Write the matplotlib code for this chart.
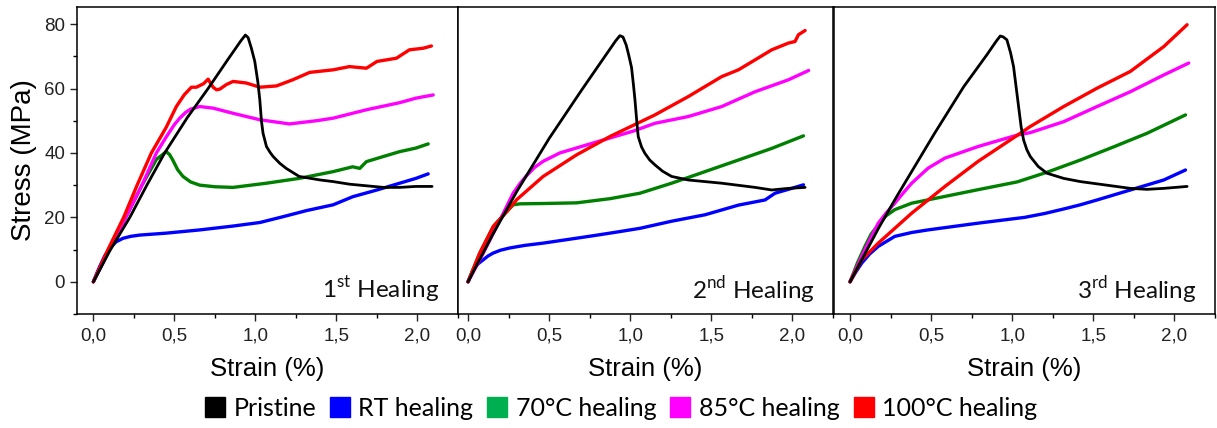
import numpy as np
import matplotlib
matplotlib.use("Agg")
import matplotlib.pyplot as plt
from matplotlib.lines import Line2D
from matplotlib.ticker import MultipleLocator, FuncFormatter

plt.rcParams['font.family'] = ['Liberation Sans', 'DejaVu Sans']
plt.rcParams['mathtext.fontset'] = 'custom'
plt.rcParams['mathtext.rm'] = 'Lato'

series_names = ["Pristine", "RT healing", "70°C healing", "85°C healing", "100°C healing"]
line_colors = ["#000000", "#0000FF", "#008000", "#FF00FF", "#FF0000"]
legend_colors = ["#000000", "#0000FF", "#00B050", "#FF00FF", "#FF0000"]
panel_labels = [r"1$^{\mathrm{st}}$ Healing", r"2$^{\mathrm{nd}}$ Healing", r"3$^{\mathrm{rd}}$ Healing"]

# ---- Panel 1 (1st healing) ----
p1_black_x = [0, 0.1, 0.225, 0.33, 0.44, 0.58, 0.708, 0.83, 0.91, 0.938, 0.955, 0.975, 0.996, 1.015, 1.027, 1.037, 1.047, 1.068, 1.09, 1.109, 1.15, 1.19, 1.27, 1.40, 1.48, 1.58, 1.685, 1.79, 1.89, 1.99, 2.09]
p1_black_y = [0, 9.5, 20, 30, 40, 51, 60, 69, 74.8, 76.6, 75.8, 72.5, 68.4, 62, 56.5, 50, 46.1, 42, 40.2, 38.9, 36.8, 35.2, 32.7, 31.6, 31.1, 30.3, 29.8, 29.3, 29.3, 29.6, 29.6]
p1_blue_x = [0, 0.02, 0.039, 0.07, 0.1, 0.14, 0.183, 0.23, 0.286, 0.45, 0.656, 0.862, 1.027, 1.17, 1.315, 1.48, 1.6, 1.75, 1.89, 1.99, 2.066]
p1_blue_y = [0, 2.5, 4.7, 8.0, 10.4, 12.4, 13.5, 14.1, 14.5, 15.1, 16.1, 17.3, 18.4, 20.2, 22.1, 23.9, 26.4, 28.5, 30.6, 32.1, 33.5]
p1_green_x = [0, 0.1, 0.2, 0.3, 0.389, 0.45, 0.47, 0.49, 0.52, 0.553, 0.6, 0.656, 0.75, 0.862, 1.068, 1.27, 1.48, 1.6, 1.644, 1.685, 1.79, 1.89, 1.99, 2.066]
p1_green_y = [0, 10, 20, 30, 38, 40.4, 39.5, 37.8, 34.8, 32.7, 31.0, 30, 29.5, 29.3, 30.6, 32.1, 34.2, 35.7, 35.2, 37.3, 38.9, 40.4, 41.5, 42.8]
p1_mag_x = [0, 0.1, 0.2, 0.3, 0.389, 0.45, 0.5, 0.533, 0.57, 0.6, 0.656, 0.739, 0.862, 1.027, 1.21, 1.377, 1.48, 1.685, 1.89, 1.99, 2.097]
p1_mag_y = [0, 10, 20, 30, 40, 45, 48.8, 50.8, 52.6, 53.6, 54.4, 53.9, 52.3, 50.3, 49, 50, 50.8, 53.4, 55.6, 57, 58]
p1_red_x = [0, 0.09, 0.187, 0.27, 0.358, 0.45, 0.512, 0.56, 0.605, 0.636, 0.68, 0.708, 0.725, 0.739, 0.76, 0.78, 0.82, 0.862, 0.944, 1.027, 1.13, 1.23, 1.335, 1.48, 1.58, 1.685, 1.75, 1.87, 1.95, 2.035, 2.086]
p1_red_y = [0, 10, 20, 30, 40, 48, 54.4, 58, 60.4, 60.4, 61.5, 62.9, 61.5, 60.4, 59.6, 59.8, 61.2, 62.2, 61.7, 60.4, 60.8, 62.7, 65, 65.8, 66.8, 66.3, 68.4, 69.4, 72, 72.5, 73.2]

# ---- Panel 2 (2nd healing) ----
p2_black_x = [0, 0.15, 0.3, 0.5, 0.7, 0.844, 0.91, 0.936, 0.955, 0.975, 0.99, 1.008, 1.02, 1.029, 1.039, 1.049, 1.07, 1.09, 1.12, 1.152, 1.2, 1.255, 1.358, 1.564, 1.77, 1.872, 1.975, 2.078]
p2_black_y = [0, 14.5, 28, 44.5, 59.5, 70, 74.8, 76.4, 76.0, 73.5, 70.5, 66.5, 61, 56.5, 50.5, 45.1, 41.8, 39.9, 37.8, 36.3, 34.3, 32.7, 31.6, 30.6, 29.3, 28.5, 29, 29.3]
p2_blue_x = [0, 0.031, 0.062, 0.093, 0.123, 0.154, 0.2, 0.257, 0.35, 0.463, 0.638, 0.772, 0.9, 1.06, 1.255, 1.461, 1.667, 1.831, 1.893, 1.975, 2.068]
p2_blue_y = [0, 3.7, 5.6, 6.8, 8.0, 8.9, 9.8, 10.5, 11.3, 12.0, 13.3, 14.3, 15.3, 16.6, 18.8, 20.8, 23.8, 25.4, 27.5, 28.7, 30.1]
p2_green_x = [0, 0.072, 0.156, 0.239, 0.278, 0.32, 0.463, 0.669, 0.875, 1.06, 1.255, 1.461, 1.667, 1.872, 2.068]
p2_green_y = [0, 8.9, 17.2, 21.8, 23.9, 24.2, 24.3, 24.5, 25.8, 27.5, 30.6, 34.2, 37.8, 41.4, 45.3]
p2_mag_x = [0, 0.1, 0.2, 0.278, 0.32, 0.36, 0.41, 0.463, 0.566, 0.772, 1.02, 1.152, 1.358, 1.564, 1.77, 1.975, 2.1]
p2_mag_y = [0, 9.5, 19.5, 27.5, 30.5, 32.9, 35.5, 37.4, 40.0, 43.1, 46.8, 49.2, 51.3, 54.4, 59, 62.7, 65.6]
p2_red_x = [0, 0.072, 0.156, 0.239, 0.30, 0.463, 0.669, 0.875, 1.152, 1.358, 1.564, 1.667, 1.77, 1.872, 1.975, 2.016, 2.037, 2.078]
p2_red_y = [0, 8.9, 17.2, 21.8, 25.5, 32.7, 39.4, 45.1, 51.8, 57.5, 63.7, 65.8, 68.9, 72, 74.1, 74.6, 76.7, 78]

# ---- Panel 3 (3rd healing) ----
p3_black_x = [0, 0.174, 0.288, 0.52, 0.7, 0.844, 0.9, 0.926, 0.945, 0.967, 0.99, 1.008, 1.025, 1.039, 1.055, 1.07, 1.09, 1.111, 1.16, 1.214, 1.317, 1.42, 1.523, 1.728, 1.831, 1.934, 2.078]
p3_black_y = [0, 16.5, 26.5, 46, 60.5, 70.5, 74.6, 76.3, 76.0, 75.1, 71, 66.8, 60, 54.4, 48, 44, 41, 38.9, 35.8, 33.7, 32.1, 31.1, 30.4, 29, 28.7, 29, 29.6]
p3_blue_x = [0, 0.035, 0.072, 0.12, 0.174, 0.276, 0.38, 0.48, 0.79, 1.077, 1.2, 1.317, 1.42, 1.523, 1.728, 1.934, 2.068]
p3_blue_y = [0, 3.0, 5.8, 8.6, 11, 14.1, 15.3, 16.1, 18.2, 20.0, 21.2, 22.6, 23.9, 25.4, 28.5, 31.6, 34.7]
p3_green_x = [0, 0.045, 0.092, 0.13, 0.174, 0.22, 0.276, 0.38, 0.585, 0.79, 1.03, 1.214, 1.42, 1.626, 1.831, 2.068]
p3_green_y = [0, 5.8, 11, 14.8, 17.7, 20.4, 22.4, 24.4, 26.5, 28.6, 31.0, 34.0, 37.8, 41.9, 46.1, 51.8]
p3_mag_x = [0, 0.092, 0.174, 0.225, 0.276, 0.33, 0.38, 0.482, 0.585, 0.79, 1.035, 1.111, 1.317, 1.523, 1.728, 1.934, 2.088]
p3_mag_y = [0, 10, 18.2, 21.5, 24.4, 27.7, 30.6, 35.3, 38.4, 42, 45.6, 46.3, 49.7, 54.4, 59, 64.2, 67.9]
p3_red_x = [0, 0.072, 0.174, 0.38, 0.585, 0.79, 1.035, 1.111, 1.317, 1.523, 1.728, 1.934, 2.078]
p3_red_y = [0, 6.8, 12, 21.3, 29.6, 37.4, 45.6, 48.2, 54.4, 60.1, 65.3, 73, 79.8]

panels = [
    [(p1_black_x, p1_black_y), (p1_blue_x, p1_blue_y), (p1_green_x, p1_green_y), (p1_mag_x, p1_mag_y), (p1_red_x, p1_red_y)],
    [(p2_black_x, p2_black_y), (p2_blue_x, p2_blue_y), (p2_green_x, p2_green_y), (p2_mag_x, p2_mag_y), (p2_red_x, p2_red_y)],
    [(p3_black_x, p3_black_y), (p3_blue_x, p3_blue_y), (p3_green_x, p3_green_y), (p3_mag_x, p3_mag_y), (p3_red_x, p3_red_y)],
]

W, H = 1217, 428
fig = plt.figure(figsize=(W / 100, H / 100), dpi=100)

# axes boxes in pixels: (left, right, x-axis minimum)
boxes = [(77, 458, -0.101), (458, 833, -0.062), (834, 1215, -0.099)]
top_px, bot_px = 7, 314

comma = FuncFormatter(lambda v, p: f"{v:.1f}".replace('.', ','))

for i, ((l, r, xmin), data) in enumerate(zip(boxes, panels)):
    ax = fig.add_axes([l / W, 1 - bot_px / H, (r - l) / W, (bot_px - top_px) / H])
    order = [1, 2, 3, 4, 0]
    for k in order:
        x, y = data[k]
        lw = 2.0 if k == 0 else 2.4
        ax.plot(x, y, color=line_colors[k], lw=lw, solid_capstyle='round',
                solid_joinstyle='round', zorder=2 + (k == 0))
    ax.set_xlim(xmin, 2.25)
    ax.set_ylim(-10, 85.3)
    ax.xaxis.set_major_locator(MultipleLocator(0.5))
    ax.xaxis.set_minor_locator(MultipleLocator(0.25))
    ax.xaxis.set_major_formatter(comma)
    ax.yaxis.set_major_locator(MultipleLocator(20))
    ax.yaxis.set_minor_locator(MultipleLocator(10))
    ax.tick_params(axis='both', which='major', direction='out', length=5, width=1, labelsize=13.5, colors='#222222')
    ax.tick_params(axis='both', which='minor', direction='out', length=3, width=1)
    ax.tick_params(axis='x', pad=5)
    for s in ax.spines.values():
        s.set_linewidth(1.1)
    if i == 0:
        ax.set_ylabel("Stress (MPa)", fontsize=20, labelpad=5)
    else:
        ax.tick_params(axis='y', which='both', left=False, labelleft=False)
    ax.set_xlabel("Strain (%)", fontsize=18.5, labelpad=9)
    ax.text(0.95, 0.05, panel_labels[i], transform=ax.transAxes, ha='right', va='baseline',
            fontsize=17.5, family='Lato', color='#111111')

handles = [Line2D([], [], marker='s', linestyle='none', markersize=14.5, color=c) for c in legend_colors]
fig.legend(handles, series_names, loc='center', bbox_to_anchor=(621 / W, 1 - 408 / H), ncol=5,
           frameon=False, prop={'family': 'Lato', 'size': 18}, handlelength=0.8,
           handletextpad=0.35, columnspacing=0.55, borderaxespad=0)

fig.savefig("out.png", dpi=100)
